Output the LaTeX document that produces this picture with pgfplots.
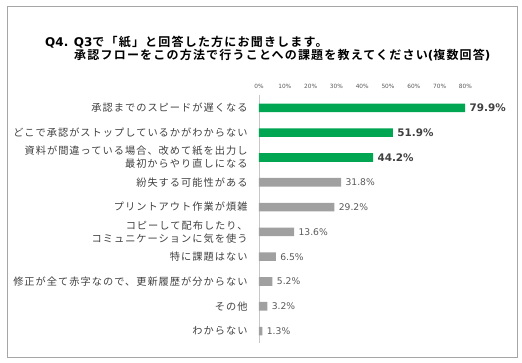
\documentclass[border=0pt]{standalone}
\usepackage{fontspec}
\setmainfont{Noto Sans CJK JP}[BoldFont={Noto Sans CJK JP Bold}]
\newfontfamily\jp{Noto Sans CJK JP}[LetterSpace=10]
\newfontfamily\jpb{Noto Sans CJK JP Bold}[LetterSpace=10]
\newfontfamily\dv{DejaVu Sans}
\newfontfamily\dvb{DejaVu Sans Bold}
\usepackage{pgfplots}
\pgfplotsset{compat=1.18}
\definecolor{bargreen}{RGB}{0,166,81}
\definecolor{bargray}{RGB}{160,160,160}
\definecolor{txt}{RGB}{64,64,64}
\definecolor{valgray}{RGB}{89,89,89}
\begin{document}
\begin{tikzpicture}[x=1pt,y=1pt]
\begin{axis}[
  at={(259pt,268pt)}, anchor=north west,
  x=2.58pt, y=24.8pt, y dir=reverse,
  xmin=0, xmax=80, ymin=-0.52, ymax=9.48,
  axis x line*=top, axis y line*=left,
  x axis line style={draw=none},
  y axis line style={draw=black!22, line width=0.8pt},
  xtick={0,10,...,80},
  xticklabel={\pgfmathprintnumber{\tick}\%},
  /pgf/number format/assume math mode=true,
  x tick label style={font=\dv\fontsize{5.8}{6}\selectfont, text=valgray, yshift=3pt},
  major tick length=0pt,
  ytick={0,...,9},
  yticklabels={
    承認までのスピードが遅くなる,
    どこで承認がストップしているかがわからない,
    {資料が間違っている場合、改めて紙を出力し\\最初からやり直しになる},
    紛失する可能性がある,
    プリントアウト作業が煩雑,
    {コピーして配布したり、\\コミュニケーションに気を使う},
    特に課題はない,
    修正が全て赤字なので、更新履歴が分からない,
    その他,
    わからない},
  y tick label style={font=\jp\fontsize{10.2}{12.8}\selectfont, text=txt, align=right},
  yticklabel style={xshift=-8pt},
  xbar, bar width=8.6pt,
  nodes near coords={\pgfmathprintnumber[fixed,fixed zerofill,precision=1]{\pgfplotspointmeta}\%},
  point meta=x,
  clip=false,
]
\addplot[bar shift=0pt, fill=bargreen, draw=none,
  nodes near coords style={font=\dvb\fontsize{10.4}{12}\selectfont, text=txt, xshift=1pt}]
  coordinates {(79.9,0) (51.9,1) (44.2,2)};
\addplot[bar shift=0pt, fill=bargray, draw=none,
  nodes near coords style={font=\dv\fontsize{9.2}{10}\selectfont, text=valgray, xshift=1pt}]
  coordinates {(31.8,3) (29.2,4) (13.6,5) (6.5,6) (5.2,7) (3.2,8) (1.3,9)};
\end{axis}
\node[anchor=west, font=\jpb\fontsize{12}{12}\selectfont, inner sep=0pt, text height=8.6pt, text depth=1.6pt] at (45,319.8) {{\dvb Q4. Q3}で「紙」と回答した方にお聞きします。};
\node[anchor=west, font=\jpb\fontsize{12}{12}\selectfont, inner sep=0pt, text height=8.6pt, text depth=1.6pt] at (74,306.6) {承認フローをこの方法で行うことへの課題を教えてください{\dvb (}複数回答{\dvb )}};
\pgfresetboundingbox
\draw[black!35, line width=0.9pt] (7,6) rectangle (517,357);
\path (0,0) rectangle (522,363);
\end{tikzpicture}
\end{document}
